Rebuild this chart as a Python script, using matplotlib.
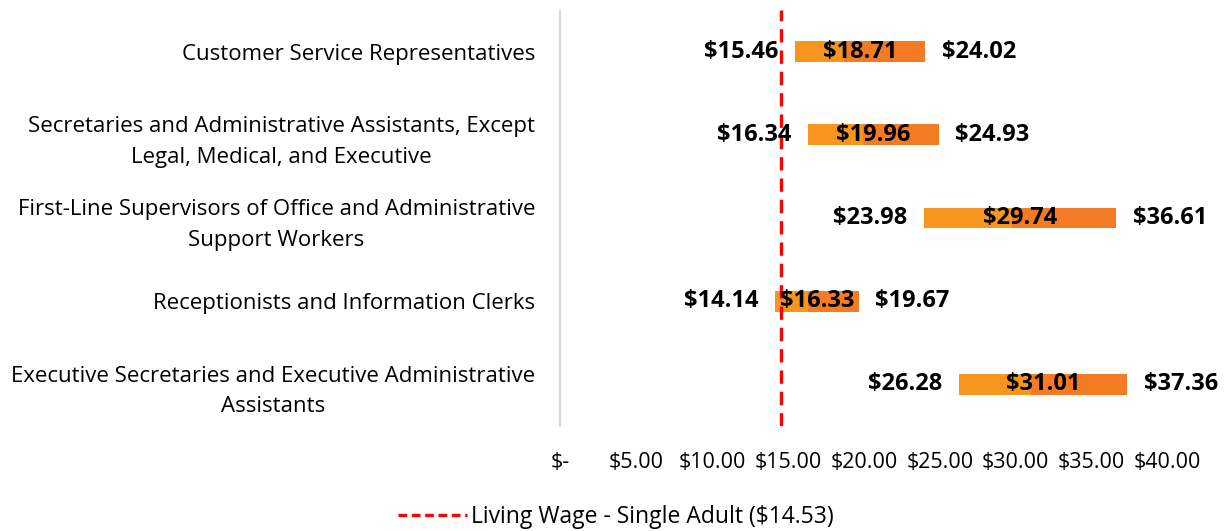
import matplotlib
matplotlib.use("Agg")
import matplotlib.pyplot as plt
from matplotlib.lines import Line2D
import numpy as np

categories = [
    "Customer Service Representatives",
    "Secretaries and Administrative Assistants, Except\nLegal, Medical, and Executive",
    "First-Line Supervisors of Office and Administrative\nSupport Workers",
    "Receptionists and Information Clerks",
    "Executive Secretaries and Executive Administrative\nAssistants",
]
p25 = [15.46, 16.34, 23.98, 14.14, 26.28]
median = [18.71, 19.96, 29.74, 16.33, 31.01]
p75 = [24.02, 24.93, 36.61, 19.67, 37.36]
living_wage = 14.53
xticks = [0, 5, 10, 15, 20, 25, 30, 35, 40]
xticklabels = ["$-", "$5.00", "$10.00", "$15.00", "$20.00", "$25.00", "$30.00", "$35.00", "$40.00"]

light = "#F7951E"
dark = "#F47A24"

plt.rcParams['font.family'] = ['Open Sans', 'DejaVu Sans']
fig = plt.figure(figsize=(12.25, 5.31), dpi=100)
ax = fig.add_axes([560/1225, 1-426/531, (1167.6-560)/1225, 416/531])

y = np.arange(len(categories))
h = 0.25
lo = np.array(p25); md = np.array(median); hi = np.array(p75)
ax.barh(y, md - lo, left=lo, height=h, color=light, zorder=2)
ax.barh(y, hi - md, left=md, height=h, color=dark, zorder=2)
ax.axvline(living_wage, color="#FF0000", lw=2.4, ls=(0, (4, 2.4)), zorder=3)

lab_font = dict(fontsize=17, fontweight='bold')
for i in range(len(categories)):
    ax.text(lo[i] - 1.1, y[i], f"${lo[i]:.2f}", ha='right', va='center', zorder=4, **lab_font)
    ax.text((lo[i] + hi[i]) / 2, y[i], f"${md[i]:.2f}", ha='center', va='center', zorder=4, **lab_font)
    ax.text(hi[i] + 1.1, y[i], f"${hi[i]:.2f}", ha='left', va='center', zorder=4, **lab_font)

ax.set_xlim(0, 40)
ax.set_ylim(len(categories) - 0.5, -0.5)
ax.set_xticks(xticks)
ax.set_xticklabels(xticklabels, fontsize=15.5)
ax.set_yticks(y)
ax.set_yticklabels(categories, fontsize=16, multialignment='center', linespacing=1.6)
ax.tick_params(axis='x', length=0, pad=19)
ax.tick_params(axis='y', length=0, pad=18)
for s in ['top', 'right', 'bottom']:
    ax.spines[s].set_visible(False)
ax.spines['left'].set_color('#D9D9D9')
ax.spines['left'].set_linewidth(1.5)

handle = Line2D([0], [0], color="#FF0000", lw=2.4, ls=(0, (2.6, 1.4)))
fig.legend([handle], ["Living Wage - Single Adult ($14.53)"], loc='center',
           bbox_to_anchor=(616/1225, 1-517/531), frameon=False, fontsize=16.5,
           handlelength=3.0, handletextpad=0.2)

fig.savefig("out.png", dpi=100)
